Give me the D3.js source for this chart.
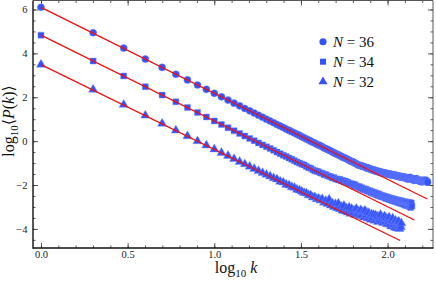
<!DOCTYPE html>
<html><head><meta charset="utf-8">
<script src="https://cdn.jsdelivr.net/npm/d3@7"></script>
<style>body{margin:0;background:#fff} svg text{font-family:"Liberation Serif","Tinos","DejaVu Serif",serif;}</style>
</head><body>
<svg id="c" width="436" height="281"></svg>
<script>
// ---- data ----
const seriesNames = ["36", "34", "32"];
// log10 <P(k)> for k = 1, 2, 3, ...
const y36 = [6.10,4.94,4.24,3.74,3.36,3.05,2.79,2.56,2.36,2.18,
2.02,1.87,1.73,1.61,1.49,1.38,1.28,1.18,1.09,1.00,
0.92,0.84,0.76,0.69,0.62,0.55,0.49,0.43,0.37,0.31,
0.26,0.20,0.15,0.10,0.05,0.00,-0.05,-0.09,-0.14,-0.18,
-0.21,-0.26,-0.31,-0.34,-0.38,-0.41,-0.45,-0.49,-0.53,-0.56,
-0.60,-0.62,-0.66,-0.69,-0.73,-0.75,-0.78,-0.80,-0.84,-0.87,
-0.91,-0.92,-0.95,-0.97,-1.01,-1.03,-1.07,-1.09,-1.11,-1.12,
-1.13,-1.15,-1.16,-1.19,-1.19,-1.23,-1.22,-1.26,-1.25,-1.29,
-1.28,-1.32,-1.31,-1.35,-1.33,-1.37,-1.36,-1.40,-1.38,-1.42,
-1.40,-1.44,-1.42,-1.46,-1.44,-1.47,-1.45,-1.49,-1.47,-1.50,
-1.48,-1.52,-1.50,-1.53,-1.51,-1.55,-1.53,-1.56,-1.54,-1.57,
-1.55,-1.59,-1.57,-1.60,-1.58,-1.61,-1.59,-1.63,-1.61,-1.64,
-1.62,-1.65,-1.63,-1.66,-1.64,-1.67,-1.65,-1.68,-1.66,-1.73,
-1.67,-1.70,-1.68,-1.71,-1.65,-1.72,-1.70,-1.73,-1.71,-1.74,
-1.72,-1.79,-1.73,-1.76,-1.74,-1.77,-1.71,-1.78,-1.76,-1.78,
-1.77,-1.80,-1.83,-1.80,-1.79,-1.81,-1.79,-1.86,-1.80,-1.82,
-1.81,-1.83,-1.77,-1.84,-1.82,-1.84,-1.78,-1.85,-1.83,-1.87];
const y34 = [4.83,3.65,2.97,2.48,2.10,1.79,1.53,1.30,1.10,0.92,
0.76,0.61,0.47,0.35,0.23,0.12,0.02,-0.08,-0.17,-0.26,
-0.34,-0.42,-0.50,-0.57,-0.64,-0.70,-0.77,-0.83,-0.89,-0.95,
-1.00,-1.05,-1.09,-1.16,-1.21,-1.23,-1.30,-1.35,-1.37,
-1.40,-1.45,-1.46,-1.53,-1.52,-1.58,-1.60,-1.62,-1.68,-1.66,-1.73,
-1.72,-1.77,-1.74,-1.81,-1.79,-1.86,-1.82,-1.89,-1.87,-1.94,
-1.93,-1.97,-1.95,-2.04,-1.99,-2.07,-2.06,-2.11,-2.08,-2.16,
-2.12,-2.20,-2.17,-2.23,-2.19,-2.27,-2.24,-2.30,-2.26,-2.34,
-2.30,-2.38,-2.33,-2.40,-2.35,-2.44,-2.39,-2.47,-2.41,-2.50,
-2.45,-2.53,-2.48,-2.55,-2.50,-2.58,-2.52,-2.61,-2.55,-2.63,
-2.56,-2.66,-2.59,-2.67,-2.61,-2.70,-2.62,-2.72,-2.64,-2.74,
-2.66,-2.75,-2.68,-2.78,-2.69,-2.80,-2.70,-2.82,-2.72,-2.84,
-2.73,-2.86,-2.75,-2.88,-2.76,-2.92,-2.77,-2.90,-2.78,-2.95,
-2.79,-2.93,-2.80,-2.98,-2.81,-3.02,-2.82,-2.96];
const y32 = [3.49,2.35,1.66,1.17,0.80,0.49,0.23,0.00,-0.19,-0.37,
-0.53,-0.67,-0.81,-0.94,-1.05,-1.16,-1.26,-1.36,-1.45,
-1.53,-1.60,-1.69,-1.74,-1.84,-1.88,-1.98,-2.01,-2.09,-2.12,-2.21,
-2.24,-2.30,-2.36,-2.38,-2.46,-2.47,-2.56,-2.55,-2.64,-2.62,
-2.70,-2.64,-2.80,-2.72,-2.86,-2.66,-2.93,-2.83,-2.99,-2.86,
-3.05,-2.84,-3.10,-2.98,-3.17,-2.94,-3.20,-3.06,-3.25,-3.02,
-3.30,-3.08,-3.28,-3.15,-3.36,-3.08,-3.30,-3.20,-3.42,-3.14,
-3.36,-3.22,-3.47,-3.16,-3.38,-3.26,-3.52,-3.27,-3.42,-3.58,
-3.33,-3.48,-3.36,-3.62,-3.38,-3.52,-3.42,-3.68,-3.45,-3.58,
-3.36,-3.62,-3.48,-3.72,-3.53,-3.42,-3.66,-3.50,-3.78,-3.56,
-3.68,-3.47,-3.80,-3.60,-3.88,-3.64,-3.52,-3.82,-3.68,-3.94,
-3.62,-3.78,-3.97,-3.70,-3.86,-3.66,-4.00,-3.80,-3.92,-3.74];
// fitted power-law lines
const fitIntercepts = [6.10, 4.83, 3.49];
const fitSlopes = [-3.92, -3.91, -3.87];
const fitEnds = [2.229, 2.154, 2.072];
const xTicks = [0, 0.5, 1.0, 1.5, 2.0];
const yTicks = [-4, -2, 0, 2, 4, 6];

// ---- drawing ----
const svg = d3.select("#c");
const blue = "rgb(52,82,248)";
const x = d3.scaleLinear().domain([-0.046, 2.262]).range([33, 433]);
const y = d3.scaleLinear().domain([-4.87, 6.41]).range([248, 0.5]);

function styleAxis(g){
  g.select(".domain").remove();
  g.selectAll(".tick line").attr("stroke","#333").attr("stroke-width",0.8);
  g.selectAll("text").attr("font-family",null).attr("font-size","10.5px").attr("fill","#222");
}
// bottom
svg.append("g").attr("transform","translate(0,248)")
  .call(d3.axisBottom(x).tickValues(xTicks).tickFormat(d3.format(".1f")).tickSizeInner(-5).tickSizeOuter(0).tickPadding(3)).call(styleAxis);
svg.append("g").attr("transform","translate(0,248)")
  .call(d3.axisBottom(x).ticks(20).tickFormat("").tickSizeInner(-2.5).tickSizeOuter(0)).call(styleAxis);
// top
svg.append("g").attr("transform","translate(0,0.5)")
  .call(d3.axisTop(x).tickValues(xTicks).tickFormat("").tickSizeInner(-5).tickSizeOuter(0)).call(styleAxis);
svg.append("g").attr("transform","translate(0,0.5)")
  .call(d3.axisTop(x).ticks(20).tickFormat("").tickSizeInner(-2.5).tickSizeOuter(0)).call(styleAxis);
// left
svg.append("g").attr("transform","translate(33,0)")
  .call(d3.axisLeft(y).tickValues(yTicks).tickFormat(d3.format("d")).tickSizeInner(-5).tickSizeOuter(0).tickPadding(5.5)).call(styleAxis);
svg.append("g").attr("transform","translate(33,0)")
  .call(d3.axisLeft(y).ticks(20).tickFormat("").tickSizeInner(-2.5).tickSizeOuter(0)).call(styleAxis);
// right
svg.append("g").attr("transform","translate(433,0)")
  .call(d3.axisRight(y).tickValues(yTicks).tickFormat("").tickSizeInner(-5).tickSizeOuter(0)).call(styleAxis);
svg.append("g").attr("transform","translate(433,0)")
  .call(d3.axisRight(y).ticks(20).tickFormat("").tickSizeInner(-2.5).tickSizeOuter(0)).call(styleAxis);

// frame
const [x0,x1] = x.range(), [yb,yt] = y.range();
svg.append("line").attr("x1",x0).attr("x2",x1).attr("y1",yt).attr("y2",yt).attr("stroke","#444").attr("stroke-width",0.9);
svg.append("line").attr("x1",x1).attr("x2",x1).attr("y1",yt).attr("y2",yb).attr("stroke","#444").attr("stroke-width",0.9);
svg.append("line").attr("x1",x0).attr("x2",x1+0.5).attr("y1",yb).attr("y2",yb).attr("stroke","#111").attr("stroke-width",1.4);
svg.append("line").attr("x1",x0).attr("x2",x0).attr("y1",yt).attr("y2",yb+0.7).attr("stroke","#111").attr("stroke-width",1.4);

// points
const allSeries = [y36, y34, y32];
const symbols = [
  d3.symbol().type(d3.symbolCircle).size(40),
  d3.symbol().type(d3.symbolSquare).size(36),
  d3.symbol().type(d3.symbolTriangle).size(36)
];
svg.append("clipPath").attr("id","pc").append("rect")
  .attr("x",x0).attr("y",yt).attr("width",x1-x0).attr("height",yb-yt);
const pts = svg.append("g").attr("clip-path","url(#pc)");
allSeries.forEach((vals, s) => {
  pts.append("g").selectAll("path").data(vals.map((v,i)=>({k:i+1, v})))
    .join("path")
    .attr("d", symbols[s]())
    .attr("transform", d => `translate(${x(Math.log10(d.k))},${y(d.v)})`)
    .attr("fill", blue)
    .attr("stroke", "rgba(120,140,255,0.55)").attr("stroke-width", 0.8);
});
// fit lines
fitIntercepts.forEach((b, s) => {
  const m = fitSlopes[s], e = fitEnds[s];
  pts.append("line")
    .attr("x1", x(0)).attr("y1", y(b))
    .attr("x2", x(e)).attr("y2", y(b + m*e))
    .attr("stroke","#f01010").attr("stroke-width",1.3);
});

// legend
const lg = svg.append("g");
seriesNames.forEach((n, s) => {
  const cy = 41.7 + s*20;
  lg.append("path").attr("d", symbols[s]()).attr("transform",`translate(323,${cy})`).attr("fill",blue);
  const t = lg.append("text").attr("x",333).attr("y",cy+5).attr("font-size","15px").attr("fill","#111");
  t.append("tspan").attr("font-style","italic").text("N");
  t.append("tspan").text(" = " + n);
});

// axis titles
const xt = svg.append("text").attr("x",236).attr("y",273).attr("text-anchor","middle")
  .attr("font-size","16px").attr("fill","#111");
xt.append("tspan").text("log");
xt.append("tspan").attr("font-size","11px").attr("dy",4).text("10");
xt.append("tspan").attr("dy",-4).text(" ");
xt.append("tspan").attr("font-style","italic").text("k");

const yl = svg.append("text").attr("transform","translate(14,121) rotate(-90)").attr("text-anchor","middle")
  .attr("font-size","16px").attr("fill","#111");
yl.append("tspan").text("log");
yl.append("tspan").attr("font-size","11px").attr("dy",4).text("10");
yl.append("tspan").attr("dy",-4).text("\u27E8");
yl.append("tspan").attr("font-style","italic").text("P");
yl.append("tspan").text("(");
yl.append("tspan").attr("font-style","italic").text("k");
yl.append("tspan").text(")\u27E9");
</script>
</body></html>
